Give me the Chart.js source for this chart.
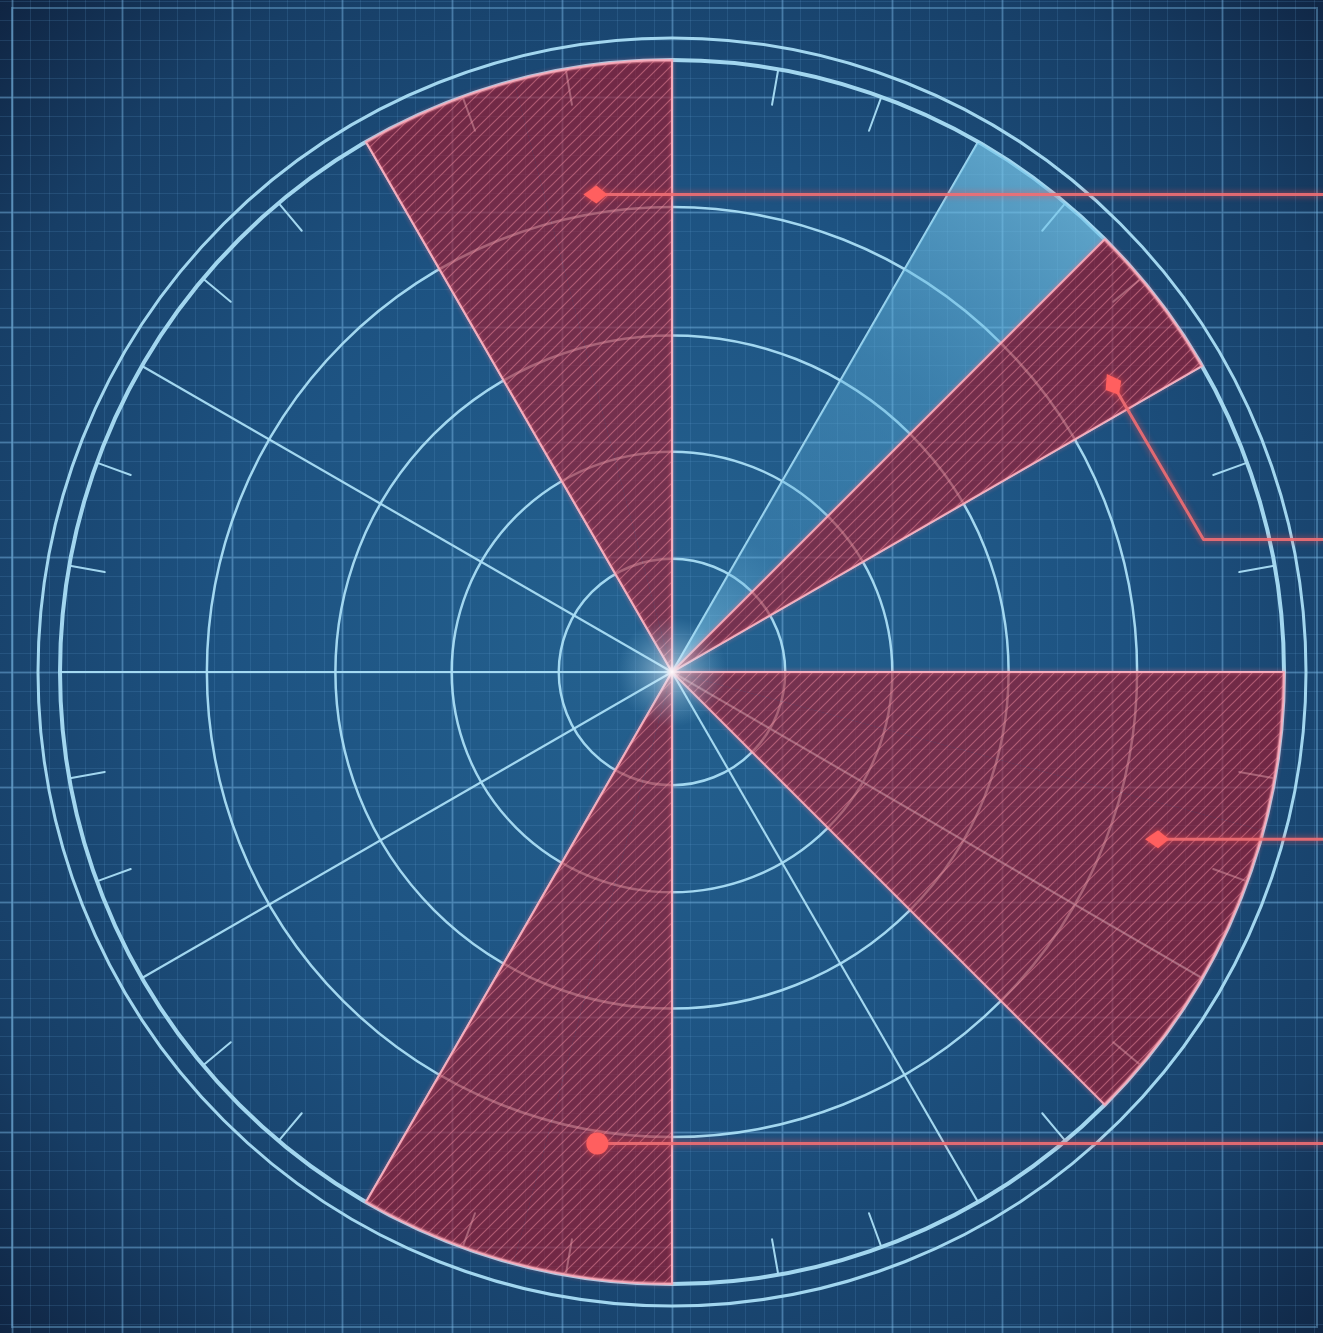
<!DOCTYPE html>
<html>
<head>
<meta charset="utf-8">
<title>Radar sectors</title>
<script src="https://cdn.jsdelivr.net/npm/chart.js@4.4.1/dist/chart.umd.min.js"></script>
<style>
  html, body { margin: 0; padding: 0; background: #132a48; }
  #wrap { width: 1323px; height: 1333px; position: relative; }
</style>
</head>
<body>
<div id="wrap"><canvas id="radarChart"></canvas></div>
<script>
// 24 sectors of 15 degrees, clockwise from north
const bearings = ['000°', '015°', '030°', '045°', '060°', '075°', '090°', '105°', '120°', '135°', '150°', '165°',
  '180°', '195°', '210°', '225°', '240°', '255°', '270°', '285°', '300°', '315°', '330°', '345°'];
const alertValues = [0, 0, 0, 100, 0, 0, 100, 100, 100, 0, 0, 0, 100, 100, 0, 0, 0, 0, 0, 0, 0, 0, 100, 100];
const sweepValues = [0, 0, 100, 0, 0, 0, 0, 0, 0, 0, 0, 0, 0, 0, 0, 0, 0, 0, 0, 0, 0, 0, 0, 0];
const ringValues = [0, 18.5, 36, 55, 76, 100];

// contacts marked on the alert sectors (bearing in degrees, range on the r scale)
const contactBearings = [351, 57, 109, 189];
const contactRanges = [79, 86, 84, 78];
const contactShapes = ['diamond', 'diamond', 'diamond', 'circle'];

const LINE_BLUE = 'rgba(170, 222, 245, 0.95)';
const EDGE_PINK = 'rgba(250, 172, 188, 0.92)';

const polarPoint = (scale, bearing, value) => {
  const r = scale.getDistanceFromCenterForValue(value);
  const a = bearing * Math.PI / 180;
  return { x: scale.xCenter + r * Math.sin(a), y: scale.yCenter - r * Math.cos(a) };
};

const makeHatch = () => {
  const size = 11;
  const c = document.createElement('canvas');
  c.width = size;
  c.height = size;
  const g = c.getContext('2d');
  g.fillStyle = 'rgba(172, 20, 38, 0.6)';
  g.fillRect(0, 0, size, size);
  g.strokeStyle = 'rgba(240, 140, 160, 0.5)';
  g.lineWidth = 1.2;
  g.beginPath();
  g.moveTo(-2, size + 2); g.lineTo(size + 2, -2);
  g.moveTo(-2, 2); g.lineTo(2, -2);
  g.moveTo(size - 2, size + 2); g.lineTo(size + 2, size - 2);
  g.stroke();
  return g.createPattern(c, 'repeat');
};

const blueprint = {
  id: 'blueprint',
  beforeDraw(chart) {
    const { ctx, width, height } = chart;
    const scale = chart.scales.r;
    const cx = scale.xCenter, cy = scale.yCenter;
    ctx.save();
    const bg = ctx.createRadialGradient(cx, cy - 40, 40, cx, cy, 960);
    bg.addColorStop(0, '#24618f');
    bg.addColorStop(0.45, '#1d5281');
    bg.addColorStop(0.78, '#173e66');
    bg.addColorStop(1, '#0f2340');
    ctx.fillStyle = bg;
    ctx.fillRect(0, 0, width, height);

    const stepX = 110, stepY = 115;
    const draw = (sx, sy, color, lw) => {
      ctx.strokeStyle = color;
      ctx.lineWidth = lw;
      ctx.beginPath();
      for (let x = cx - Math.ceil(cx / sx) * sx; x <= width; x += sx) {
        ctx.moveTo(Math.round(x) + 0.5, 0); ctx.lineTo(Math.round(x) + 0.5, height);
      }
      for (let y = cy - Math.ceil(cy / sy) * sy; y <= height; y += sy) {
        ctx.moveTo(0, Math.round(y) + 0.5); ctx.lineTo(width, Math.round(y) + 0.5);
      }
      ctx.stroke();
    };
    draw(stepX / 6, stepY / 6, 'rgba(100, 160, 210, 0.18)', 1);
    draw(stepX, stepY, 'rgba(120, 180, 225, 0.4)', 2);
    ctx.strokeStyle = 'rgba(120, 180, 225, 0.42)';
    ctx.lineWidth = 2;
    ctx.strokeRect(12, 8, width - 18, height - 14);
    ctx.restore();
  },
  beforeDatasetsDraw(chart) {
    const { ctx } = chart;
    const scale = chart.scales.r;
    ctx.save();
    ctx.strokeStyle = LINE_BLUE;
    ctx.lineCap = 'round';
    // outer bezel ring
    ctx.lineWidth = 3;
    ctx.beginPath();
    ctx.arc(scale.xCenter, scale.yCenter, scale.drawingArea + 22, 0, Math.PI * 2);
    ctx.stroke();
    // rim ticks every 10 degrees, skipping the spokes
    ctx.lineWidth = 2;
    for (let b = 10; b < 360; b += 10) {
      if (b % 30 === 0) continue;
      const a = b * Math.PI / 180;
      const r1 = scale.drawingArea - 2, r2 = scale.drawingArea - 36;
      ctx.beginPath();
      ctx.moveTo(scale.xCenter + r1 * Math.sin(a), scale.yCenter - r1 * Math.cos(a));
      ctx.lineTo(scale.xCenter + r2 * Math.sin(a), scale.yCenter - r2 * Math.cos(a));
      ctx.stroke();
    }
    ctx.restore();
  },
  afterDatasetsDraw(chart) {
    const { ctx, width } = chart;
    const scale = chart.scales.r;
    ctx.save();

    // outline each run of neighbouring alert sectors as one wedge
    const arcs = chart.getDatasetMeta(0).data;
    const runs = [];
    let run = null;
    alertValues.forEach((v, i) => {
      if (v > 0) {
        if (!run) { run = { first: i, last: i }; runs.push(run); } else run.last = i;
      } else run = null;
    });
    ctx.strokeStyle = EDGE_PINK;
    ctx.lineWidth = 2;
    ctx.lineJoin = 'round';
    ctx.shadowColor = 'rgba(255, 120, 140, 0.7)';
    ctx.shadowBlur = 4;
    runs.forEach(({ first, last }) => {
      const a = arcs[first].getProps(['x', 'y', 'startAngle', 'outerRadius'], true);
      const b = arcs[last].getProps(['endAngle'], true);
      ctx.beginPath();
      ctx.moveTo(a.x, a.y);
      ctx.arc(a.x, a.y, a.outerRadius, a.startAngle, b.endAngle);
      ctx.closePath();
      ctx.stroke();
    });
    ctx.shadowBlur = 0;

    // centre glow
    const glow = ctx.createRadialGradient(scale.xCenter, scale.yCenter, 0, scale.xCenter, scale.yCenter, 55);
    glow.addColorStop(0, 'rgba(255, 255, 255, 0.95)');
    glow.addColorStop(0.15, 'rgba(230, 245, 255, 0.5)');
    glow.addColorStop(1, 'rgba(150, 210, 240, 0)');
    ctx.fillStyle = glow;
    ctx.beginPath();
    ctx.arc(scale.xCenter, scale.yCenter, 55, 0, Math.PI * 2);
    ctx.fill();

    // contact leaders running off to the right edge
    ctx.shadowColor = 'rgba(255, 80, 80, 0.8)';
    ctx.shadowBlur = 6;
    contactBearings.forEach((bearing, i) => {
      const p = polarPoint(scale, bearing, contactRanges[i]);
      const path = [p];
      if (i === 1) path.push(polarPoint(scale, 76, 89.5));
      const last = path[path.length - 1];
      path.push({ x: width, y: last.y });
      ctx.strokeStyle = 'rgba(240, 110, 115, 0.9)';
      ctx.lineWidth = 3;
      ctx.beginPath();
      ctx.moveTo(path[0].x, path[0].y);
      path.slice(1).forEach(q => ctx.lineTo(q.x, q.y));
      ctx.stroke();

      ctx.fillStyle = '#ff5f5f';
      ctx.beginPath();
      if (contactShapes[i] === 'circle') {
        ctx.arc(p.x, p.y, 11, 0, Math.PI * 2);
      } else {
        const dir = Math.atan2(path[1].y - p.y, path[1].x - p.x);
        ctx.translate(p.x, p.y);
        ctx.rotate(dir);
        ctx.moveTo(-13, 0);
        ctx.lineTo(0, -9);
        ctx.lineTo(11, 0);
        ctx.lineTo(0, 9);
        ctx.closePath();
        ctx.setTransform(1, 0, 0, 1, 0, 0);
      }
      ctx.fill();
    });
    ctx.restore();
  }
};

const hatch = makeHatch();

const sweepFill = (context) => {
  const scale = context.chart.scales.r;
  if (!scale || !scale.drawingArea) return 'rgba(90, 175, 220, 0.4)';
  const g = context.chart.ctx.createRadialGradient(scale.xCenter, scale.yCenter, 0, scale.xCenter, scale.yCenter, scale.drawingArea);
  g.addColorStop(0, 'rgba(160, 225, 250, 0.6)');
  g.addColorStop(0.25, 'rgba(90, 170, 215, 0.3)');
  g.addColorStop(0.6, 'rgba(95, 180, 222, 0.42)');
  g.addColorStop(1, 'rgba(120, 200, 235, 0.7)');
  return g;
};

const chart = new Chart(document.getElementById('radarChart'), {
  type: 'polarArea',
  data: {
    labels: bearings,
    datasets: [
      {
        label: 'Alert sectors',
        data: alertValues,
        backgroundColor: hatch,
        borderWidth: 0
      },
      {
        label: 'Sweep',
        data: sweepValues,
        backgroundColor: sweepFill,
        borderWidth: 0
      }
    ]
  },
  options: {
    responsive: true,
    maintainAspectRatio: false,
    animation: false,
    layout: { padding: { left: 60, right: 39, top: 60, bottom: 49 } },
    plugins: {
      legend: { display: false },
      tooltip: { enabled: false }
    },
    scales: {
      r: {
        min: 0,
        max: 100,
        afterBuildTicks: scale => {
          scale.ticks = ringValues.map(v => ({ value: v }));
        },
        ticks: { display: false },
        pointLabels: { display: false },
        grid: {
          circular: true,
          color: LINE_BLUE,
          lineWidth: ctx => (ctx.index === ringValues.length - 1 ? 4 : 2.5)
        },
        angleLines: {
          display: true,
          color: LINE_BLUE,
          lineWidth: ctx => (ctx.index % 2 === 0 ? 2.2 : 0)
        }
      }
    }
  },
  plugins: [blueprint]
});
</script>
</body>
</html>
